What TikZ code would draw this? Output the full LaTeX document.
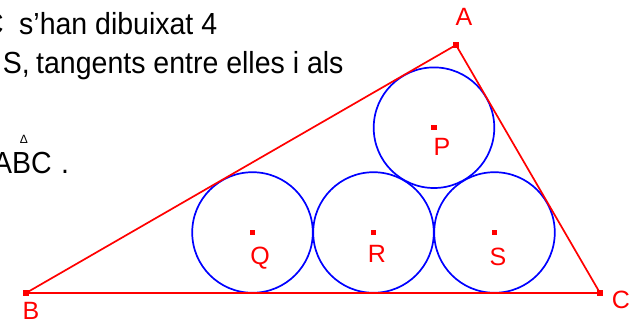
\documentclass[tikz,border=0pt]{standalone}
\usepackage{fontspec}
\setmainfont{Liberation Sans}
\newcommand{\tallt}[1]{\scalebox{1}[1.07]{#1}}
\begin{document}
\begin{tikzpicture}[x=1pt,y=-1pt,
  txt/.style={inner sep=0pt,font=\fontsize{28.5}{32}\selectfont,text=black},
  lbl/.style={inner sep=0pt,font=\fontsize{25}{28}\selectfont,text=red},
  side/.style={draw=red,line width=1.7pt},
  circ/.style={draw=blue,line width=1.7pt},
  dot/.style={fill=red,minimum size=5.5pt,inner sep=0pt,rectangle}]
\useasboundingbox (0,0) rectangle (641,327);
\clip (0,0) rectangle (641,327);
% text
\node[txt,anchor=base east] (t1a) at (4,34) {\tallt{C}};
\node[txt,anchor=base west] (t1b) at (19,34) {\tallt{s’han dibuixat 4}};
\node[txt,anchor=base east] (t2a) at (30,73.5) {\tallt{S,}};
\node[txt,anchor=base west] (t2b) at (36,73.5) {\tallt{tangents entre elles i als}};
\node[txt,anchor=base east] (t3a) at (52,173) {\tallt{ABC}};
\node[txt,anchor=base west] (t3b) at (61,173) {\tallt{.}};
\node[inner sep=0pt,font=\fontsize{12}{13}\selectfont] (delta) at (24,139) {Δ};
% points
\coordinate (A) at (456,45);
\coordinate (B) at (26,293);
\coordinate (C) at (600,293);
\coordinate (Q) at (252.5,232.5);
\coordinate (R) at (373.5,232.5);
\coordinate (S) at (494.5,232.5);
\coordinate (P) at (434,127.7);
% circles
\foreach \c in {P,Q,R,S} \draw[circ] (\c) circle[radius=60.3];
% triangle
\draw[side] (A) -- (B) -- (C) -- cycle;
% dots
\foreach \c in {A,B,C,P,Q,R,S} \node[dot] (d\c) at (\c) {};
% labels
\node[lbl] (lA) at (464,17) {A};
\node[lbl] (lB) at (31,311) {B};
\node[lbl] (lC) at (621,300) {C};
\node[lbl] (lP) at (442,147) {P};
\node[lbl] (lQ) at (260,258) {Q};
\node[lbl] (lR) at (377,254) {R};
\node[lbl] (lS) at (498,257) {S};
\end{tikzpicture}
\end{document}
